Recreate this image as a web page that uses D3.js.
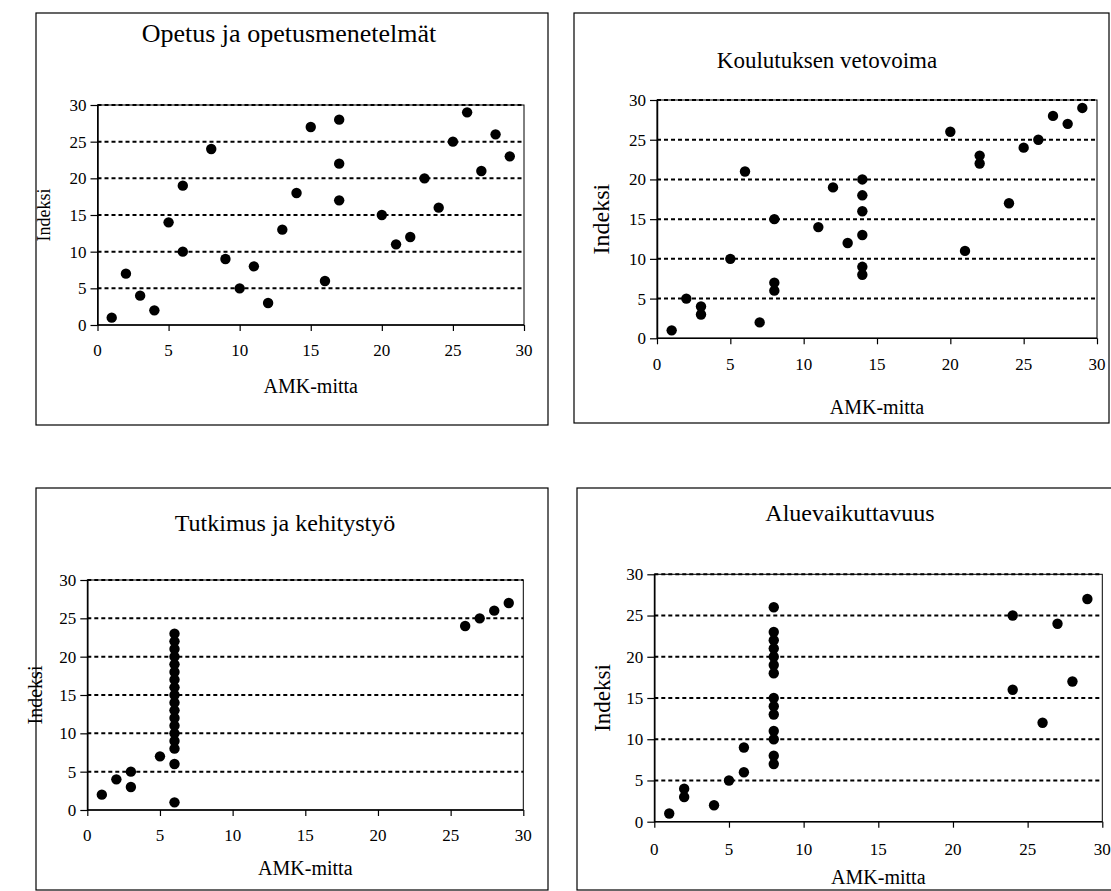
<!DOCTYPE html>
<html>
<head>
<meta charset="utf-8">
<script src="https://cdn.jsdelivr.net/npm/d3@7"></script>
<style>
	body { margin: 0; background: #fff; }
	svg text { font-family: 'Liberation Serif', 'DejaVu Serif', 'Times New Roman', serif; fill: #000; }
</style>
</head>
<body>
<svg id="chart" width="1111" height="891"></svg>
<script>
// AMK-mitta (x) ja indeksi (y) jokaiselle kuvaajalle
const opetusAmk = [1, 2, 3, 4, 5, 6, 6, 8, 9, 10, 11, 12, 13, 14, 15, 16, 17, 17, 17, 20, 21, 22, 23, 24, 25, 26, 27, 28, 29]
const opetusIndeksi = [1, 7, 4, 2, 14, 19, 10, 24, 9, 5, 8, 3, 13, 18, 27, 6, 28, 22, 17, 15, 11, 12, 20, 16, 25, 29, 21, 26, 23]

const vetovoimaAmk = [1, 2, 3, 3, 5, 6, 7, 8, 8, 8, 11, 12, 13, 14, 14, 14, 14, 14, 14, 20, 21, 22, 22, 24, 25, 26, 27, 28, 29]
const vetovoimaIndeksi = [1, 5, 4, 3, 10, 21, 2, 15, 7, 6, 14, 19, 12, 20, 18, 16, 13, 9, 8, 26, 11, 23, 22, 17, 24, 25, 28, 27, 29]

const tutkimusAmk = [1, 2, 3, 3, 5, 6, 6, 6, 6, 6, 6, 6, 6, 6, 6, 6, 6, 6, 6, 6, 6, 6, 6, 26, 27, 28, 29]
const tutkimusIndeksi = [2, 4, 5, 3, 7, 6, 1, 8, 9, 10, 11, 12, 13, 14, 15, 16, 17, 18, 19, 20, 21, 22, 23, 24, 25, 26, 27]

const alueAmk = [1, 2, 2, 4, 5, 6, 6, 8, 8, 8, 8, 8, 8, 8, 8, 8, 8, 8, 8, 8, 8, 24, 24, 26, 27, 28, 29]
const alueIndeksi = [1, 4, 3, 2, 5, 6, 9, 26, 23, 22, 21, 20, 19, 18, 15, 14, 13, 11, 10, 8, 7, 25, 16, 12, 24, 17, 27]

const tickValues = [0, 5, 10, 15, 20, 25, 30]
const gridValues = [5, 10, 15, 20, 25, 30]

const SERIF = "'Liberation Serif', 'DejaVu Serif', 'Times New Roman', serif"

const panels = [
	{
		title: 'Opetus ja opetusmenetelmät', xs: opetusAmk, ys: opetusIndeksi,
		box: [36, 13, 548, 425], px: [97.5, 524], py: [325, 105],
		titleX: 289, titleY: 42, titleSize: 26,
		yLabelX: 50, yLabelSize: 18, xTickY: 356, xLabelY: 393
	},
	{
		title: 'Koulutuksen vetovoima', xs: vetovoimaAmk, ys: vetovoimaIndeksi,
		box: [574, 13, 1109, 423], px: [657, 1097], py: [338.3, 100],
		titleX: 827, titleY: 68, titleSize: 23,
		yLabelX: 609, yLabelSize: 24, xTickY: 370, xLabelY: 414
	},
	{
		title: 'Tutkimus ja kehitystyö', xs: tutkimusAmk, ys: tutkimusIndeksi,
		box: [36, 488, 548, 890], px: [87.3, 523.3], py: [810, 580],
		titleX: 285, titleY: 531, titleSize: 24,
		yLabelX: 42, yLabelSize: 20, xTickY: 841, xLabelY: 875
	},
	{
		title: 'Aluevaikuttavuus', xs: alueAmk, ys: alueIndeksi,
		box: [577, 488, 1120, 890], px: [654.3, 1102.3], py: [821.7, 574.3],
		titleX: 850, titleY: 521, titleSize: 24,
		yLabelX: 610, yLabelSize: 23, xTickY: 855, xLabelY: 884
	}
]

const svg = d3.select('#chart')

function drawPanel (p) {
	const g = svg.append('g')
	const [bx0, by0, bx1, by1] = p.box

	g.append('rect')
		.attr('x', bx0).attr('y', by0)
		.attr('width', bx1 - bx0).attr('height', by1 - by0)
		.attr('fill', '#fff').attr('stroke', '#000').attr('stroke-width', 1.2)

	const x = d3.scaleLinear().domain([0, 30]).range(p.px)
	const y = d3.scaleLinear().domain([0, 30]).range(p.py)

	// plot area frame
	g.append('rect')
		.attr('x', p.px[0]).attr('y', p.py[1])
		.attr('width', p.px[1] - p.px[0]).attr('height', p.py[0] - p.py[1])
		.attr('fill', 'none').attr('stroke', '#000').attr('stroke-width', 1)

	// dotted gridlines
	g.selectAll('line.grid')
		.data(gridValues)
		.join('line')
		.attr('class', 'grid')
		.attr('x1', p.px[0]).attr('x2', p.px[1])
		.attr('y1', d => y(d)).attr('y2', d => y(d))
		.attr('stroke', '#000').attr('stroke-width', 2)
		.attr('stroke-dasharray', '4,3')

	const xAxis = g.append('g')
		.attr('transform', `translate(0, ${p.py[0]})`)
		.call(d3.axisBottom(x).tickValues(tickValues).tickSize(6).tickFormat(''))
	const yAxis = g.append('g')
		.attr('transform', `translate(${p.px[0]}, 0)`)
		.call(d3.axisLeft(y).tickValues(tickValues).tickSize(7).tickPadding(4).tickSizeOuter(0))
	;[xAxis, yAxis].forEach(a => {
		a.attr('font-family', SERIF)
		a.select('.domain').attr('stroke', '#000').attr('stroke-width', 1.5)
		a.selectAll('.tick line').attr('stroke', '#000').attr('stroke-width', 1.2)
	})
	yAxis.selectAll('.tick text')
		.attr('font-size', 17)
		.attr('font-family', SERIF)
		.attr('fill', '#000')
	xAxis.select('.domain').attr('d', `M${p.px[0]},0H${p.px[1]}`)

	// x tick labels placed on their own baseline
	g.selectAll('text.xtick')
		.data(tickValues)
		.join('text')
		.attr('class', 'xtick')
		.attr('x', d => x(d)).attr('y', p.xTickY)
		.attr('text-anchor', 'middle')
		.attr('font-family', SERIF)
		.attr('font-size', 17)
		.text(d => d)

	g.selectAll('circle.pt')
		.data(p.xs.map((v, i) => [v, p.ys[i]]))
		.join('circle')
		.attr('class', 'pt')
		.attr('cx', d => x(d[0])).attr('cy', d => y(d[1]))
		.attr('r', 5.2).attr('fill', '#000')

	g.append('text')
		.attr('x', p.titleX).attr('y', p.titleY)
		.attr('text-anchor', 'middle')
		.attr('font-family', SERIF)
		.attr('font-size', p.titleSize)
		.text(p.title)

	g.append('text')
		.attr('x', (p.px[0] + p.px[1]) / 2).attr('y', p.xLabelY)
		.attr('text-anchor', 'middle')
		.attr('font-family', SERIF)
		.attr('font-size', 20)
		.text('AMK-mitta')

	const cy = (p.py[0] + p.py[1]) / 2
	g.append('text')
		.attr('transform', `translate(${p.yLabelX}, ${cy}) rotate(-90)`)
		.attr('text-anchor', 'middle')
		.attr('font-family', SERIF)
		.attr('font-size', p.yLabelSize)
		.text('Indeksi')
}

panels.forEach(drawPanel)
</script>
</body>
</html>
